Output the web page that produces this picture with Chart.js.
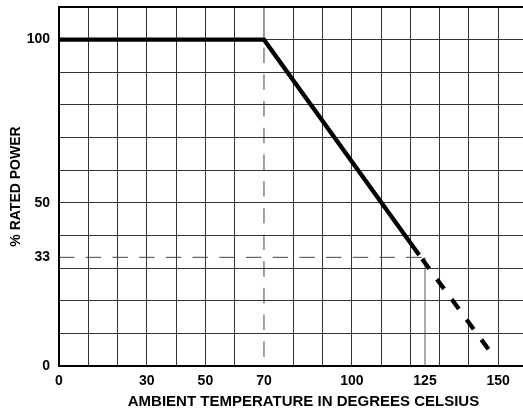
<!DOCTYPE html>
<html><head><meta charset="utf-8">
<script src="https://cdn.jsdelivr.net/npm/chart.js@4.4.1/dist/chart.umd.min.js"></script>
<style>
html,body{margin:0;padding:0;background:#fff;overflow:hidden;width:523px;height:413px;}
#wrap{width:548px;height:413px;}
canvas{display:block;}
</style></head><body>
<div id="wrap"><canvas id="c" width="548" height="413"></canvas></div>
<script>
// Axis tick values (gridlines) and labelled ticks
const xTickValues = [0,10,20,30,40,50,60,70,80,90,100,110,120,125,130,140,150];
const xTickLabels = [0,30,50,70,100,125,150];
const yTickValues = [0,10,20,30,33.3,40,50,60,70,80,90,100,110];
const yTickLabels = [0,33.3,50,100];

// Derating curve (rated region, solid)
const ratedTemp  = [0, 70, 123];
const ratedPower = [100, 100, 34];
// Extended derating (dashed)
const extTemp  = [123, 148];
const extPower = [34, 3.5];
// Reference lines
const ref33Temp  = [0, 125];
const ref33Power = [33.3, 33.3];
const ref125Temp  = [125, 125];
const ref125Power = [0, 33.3];
const ref70Temp  = [70, 70];
const ref70Power = [100, 0];
const ref70TopTemp  = [70, 70];
const ref70TopPower = [100, 110];

const pts = (xs, ys) => xs.map((x, i) => ({x, y: ys[i]}));
const FONT = "'Liberation Sans', Arial, Helvetica, sans-serif";

const base = {showLine:true, pointRadius:0, pointHoverRadius:0, fill:false, tension:0, borderCapStyle:'butt', borderJoinStyle:'miter'};

new Chart(document.getElementById('c'), {
  type: 'scatter',
  data: {
    datasets: [
      Object.assign({}, base, {data: pts(ratedTemp, ratedPower), borderColor:'#000', borderWidth:4.3}),
      Object.assign({}, base, {data: pts(extTemp, extPower), borderColor:'#000', borderWidth:4.3, borderDash:[12,13], borderDashOffset:20}),
      Object.assign({}, base, {data: pts(ref33Temp, ref33Power), borderColor:'#444', borderWidth:1, borderDash:[15.5,11.2]}),
      Object.assign({}, base, {data: pts(ref125Temp, ref125Power), borderColor:'#555', borderWidth:1}),
      Object.assign({}, base, {data: pts(ref70Temp, ref70Power), borderColor:'#444', borderWidth:1, borderDash:[15.5,11.2], borderDashOffset:-8}),
      Object.assign({}, base, {data: pts(ref70TopTemp, ref70TopPower), borderColor:'#333', borderWidth:1})
    ]
  },
  options: {
    responsive: false,
    animation: false,
    devicePixelRatio: 1,
    layout: {padding: {top: 7, right: 0, bottom: 0, left: 0}},
    plugins: {legend:{display:false}, tooltip:{enabled:false}},
    scales: {
      x: {
        type: 'linear', min: 0, max: 167,
        afterBuildTicks: s => { s.ticks = xTickValues.map(v => ({value: v})); },
        afterFit: s => { s.height = 47; s.paddingLeft = 0; s.paddingRight = 0; },
        ticks: {
          autoSkip: false, maxRotation: 0, padding: 7, color: '#000',
          font: {family: FONT, size: 14, weight: 'bold'},
          callback: v => xTickLabels.includes(v) ? String(v) : ''
        },
        grid: {
          drawTicks: false, lineWidth: 1,
          color: ctx => (ctx.tick && [0,70,125].includes(ctx.tick.value)) ? 'rgba(0,0,0,0)' : '#333'
        },
        border: {display: true, color: '#000', width: 2},
        title: {display: true, text: 'AMBIENT TEMPERATURE IN DEGREES CELSIUS', color: '#000',
          font: {family: FONT, size: 15, weight: 'bold'}, padding: {top: 4, bottom: 2}}
      },
      y: {
        type: 'linear', min: 0, max: 110,
        afterBuildTicks: s => { s.ticks = yTickValues.map(v => ({value: v})); },
        afterFit: s => { s.width = 59; s.paddingTop = 0; s.paddingBottom = 0; },
        ticks: {
          autoSkip: false, padding: 9, color: '#000',
          font: {family: FONT, size: 14, weight: 'bold'},
          callback: v => yTickLabels.includes(v) ? (v === 33.3 ? '33' : String(v)) : ''
        },
        grid: {
          drawTicks: false,
          lineWidth: ctx => (ctx.tick && ctx.tick.value === 110) ? 2 : 1,
          color: ctx => (ctx.tick && [0,33.3].includes(ctx.tick.value)) ? 'rgba(0,0,0,0)' : (ctx.tick && ctx.tick.value === 110 ? '#000' : '#333')
        },
        border: {display: true, color: '#000', width: 2},
        title: {display: true, text: '% RATED POWER', color: '#000',
          font: {family: FONT, size: 14, weight: 'bold'}, padding: {top: 8, bottom: 0}}
      }
    }
  }
});
</script>
</body></html>
